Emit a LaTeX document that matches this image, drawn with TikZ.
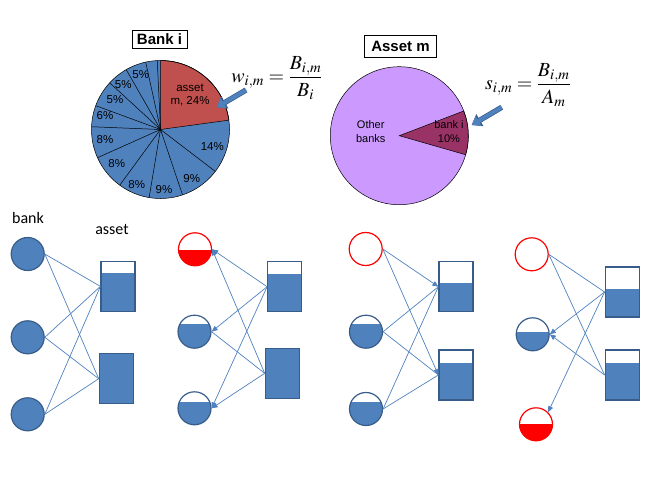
\documentclass[tikz,border=0pt]{standalone}
\usepackage{mathptmx}
\usepackage[no-math]{fontspec}
\newfontfamily\arialfont{Liberation Sans}
\newfontfamily\calibrifont{Carlito}
\usepackage{tikz}
\usetikzlibrary{positioning,arrows.meta,calc}

\definecolor{nodeblue}{HTML}{4F81BD}
\definecolor{edgeblue}{HTML}{385D8A}
\definecolor{slicered}{HTML}{C0504D}
\definecolor{lilac}{HTML}{CC99FF}
\definecolor{bankslice}{HTML}{993366}

\begin{document}
\begin{tikzpicture}[x=1pt,y=-1pt,
  bank/.style={circle,draw=edgeblue,line width=1.2pt,minimum size=33pt,inner sep=0pt,fill=nodeblue},
  banklvl/.style={circle,draw=edgeblue,line width=1.2pt,minimum size=33pt,inner sep=0pt,fill=white,
    path picture={\fill[nodeblue] ([yshift=#1]path picture bounding box.west) rectangle (path picture bounding box.south east);}},
  bankhit/.style={circle,draw=red,line width=1.2pt,minimum size=33pt,inner sep=0pt,fill=white,
    path picture={\fill[red] ([yshift=#1]path picture bounding box.west) rectangle (path picture bounding box.south east);}},
  bankgone/.style={circle,draw=red,line width=1.2pt,minimum size=33pt,inner sep=0pt,fill=white},
  asset/.style={rectangle,draw=edgeblue,line width=1.2pt,minimum width=34pt,minimum height=50pt,inner sep=0pt,fill=white,
    path picture={\fill[nodeblue] (path picture bounding box.south west) rectangle ([yshift=-#1]path picture bounding box.north east);}},
  link/.style={nodeblue,line width=0.7pt},
  shock/.style={link,-{Triangle[length=6pt,width=5pt]}},
  fatarrow/.style={draw=nodeblue,line width=4pt,-{Triangle[length=8pt,width=11pt]},
    preaction={draw=edgeblue,line width=5.4pt,-{Triangle[length=9.5pt,width=13.5pt]}}},
  pct/.style={font=\arialfont\fontsize{11.5}{13}\selectfont,align=center,inner sep=0pt},
  titlebox/.style={draw,line width=0.6pt,font=\arialfont\bfseries\fontsize{15}{17}\selectfont,inner xsep=5pt,inner ysep=0pt},
  eqn/.style={font=\fontsize{20}{24}\selectfont,inner sep=0pt},
  tag/.style={font=\calibrifont\fontsize{16}{19}\selectfont,inner sep=0pt}]
  \useasboundingbox (0,0) rectangle (665,498);

  % portfolio of bank i
  \begin{scope}[shift={(160.5,129.5)},yscale=-1]
    \fill[nodeblue] (0,0) circle[radius=69];
    \draw[fill=slicered,line width=0.5pt] (0,0) -- (7.8:69) arc[start angle=7.8,end angle=90,radius=69] -- cycle;
    \foreach \t in {92.7,102.4,119.8,137.4,159.8,177.7,204.1,233.8,260.5,288.6,322.6}
      \draw[line width=0.5pt] (0,0) -- (\t:69);
    \draw[line width=0.5pt] (0,0) circle[radius=69];
  \end{scope}
  \node[titlebox,minimum height=18pt] (banktitle) at (159.5,39.2) {Bank i};
  \foreach \x/\y/\txt [count=\k] in {190/95/{asset\\m, 24\%},212.3/146.7/14\%,191.7/178.3/9\%,164/189.3/9\%,
      136.7/185/8\%,116.7/164/8\%,105/140/8\%,105/115.7/6\%,115/99.3/5\%,123.3/85/5\%,140.7/75/5\%}
    \node[pct] (w\k) at (\x,\y) {\txt};

  % holders of asset m
  \begin{scope}[shift={(399.3,135.7)},yscale=-1]
    \draw[fill=lilac,line width=0.5pt] (0,0) circle[radius=69];
    \draw[fill=bankslice,line width=0.5pt] (0,0) -- (-16:69) arc[start angle=-16,end angle=21,radius=69] -- cycle;
  \end{scope}
  \node[titlebox,minimum height=22pt,inner xsep=7pt] (assettitle) at (400.5,46.2) {Asset m};
  \node[pct,font=\arialfont\fontsize{11}{13.3}\selectfont] (others) at (370.7,131.6) {Other\\banks};
  \node[pct,font=\arialfont\fontsize{11}{13.3}\selectfont] (share) at (449,131.6) {bank i\\10\%};

  % weights
  \node[eqn] (weq) at (277,78) {$w_{i,m}=\displaystyle\frac{B_{i,m}}{B_i}$};
  \node[eqn] (seq) at (528,85) {$s_{i,m}=\displaystyle\frac{B_{i,m}}{A_m}$};
  \coordinate (wtail) at (246,90);
  \coordinate (whead) at (216.7,107.3);
  \coordinate (stail) at (501.7,107.3);
  \coordinate (shead) at (471.7,125);
  \draw[fatarrow] (wtail) -- (whead);
  \draw[fatarrow] (stail) -- (shead);

  % network before the shock
  \node[tag] (banktag) at (28,218) {bank};
  \node[tag] (assettag) at (112,229.5) {asset};
  \node[bank] (a1) at (27.7,254) {};
  \node[bank] (a2) at (27.7,337.3) {};
  \node[bank] (a3) at (27.7,414.3) {};
  \node[asset=12] (ra1) at (118,286.4) {};
  \node[asset=0] (ra2) at (116.3,378.7) {};
  \foreach \b in {a1,a2,a3} \foreach \r in {ra1,ra2} \draw[link] (\b.east) -- (\r.west);

  % losses passed to banks
  \node[bankhit=-1] (b1) at (195,249.3) {};
  \node[banklvl=7.3] (b2) at (194.5,331.7) {};
  \node[banklvl=6] (b3) at (194.5,408.3) {};
  \node[asset=12] (rb1) at (284.7,286.7) {};
  \node[asset=0] (rb2) at (282.3,373.3) {};
  \foreach \b in {b1,b2,b3} \draw[shock] (rb1.west) -- (\b.east);
  \draw[shock] (rb2.west) -- (b1.east);
  \draw[shock] (rb2.west) -- (b3.east);
  \draw[link] (b2.east) -- (rb2.west);

  % fire sales
  \node[bankgone] (c1) at (365.7,249) {};
  \node[banklvl=7.3] (c2) at (366,331.7) {};
  \node[banklvl=6.7] (c3) at (366,409) {};
  \node[asset=21] (rc1) at (456,286.7) {};
  \node[asset=13.3] (rc2) at (456,375) {};
  \draw[shock] (c1.east) -- (rc1.west);
  \draw[shock] (c1.east) -- (rc2.west);
  \foreach \b in {c2,c3} \foreach \r in {rc1,rc2} \draw[link] (\b.east) -- (\r.west);

  % second round
  \node[bankgone] (d1) at (531.7,254.3) {};
  \node[banklvl=2] (d2) at (532.7,334.3) {};
  \node[bankhit=0] (d3) at (536,424.3) {};
  \node[asset=21.6] (rd1) at (622.2,292) {};
  \node[asset=13.3] (rd2) at (622.2,375) {};
  \draw[link] (d1.east) -- (rd1.west);
  \draw[link] (d1.east) -- (rd2.west);
  \draw[shock] (rd1.west) -- (d2.east);
  \draw[shock] (rd2.west) -- (d2.east);
  \draw[shock] (rd1.west) -- (d3.north east);
\end{tikzpicture}
\end{document}
